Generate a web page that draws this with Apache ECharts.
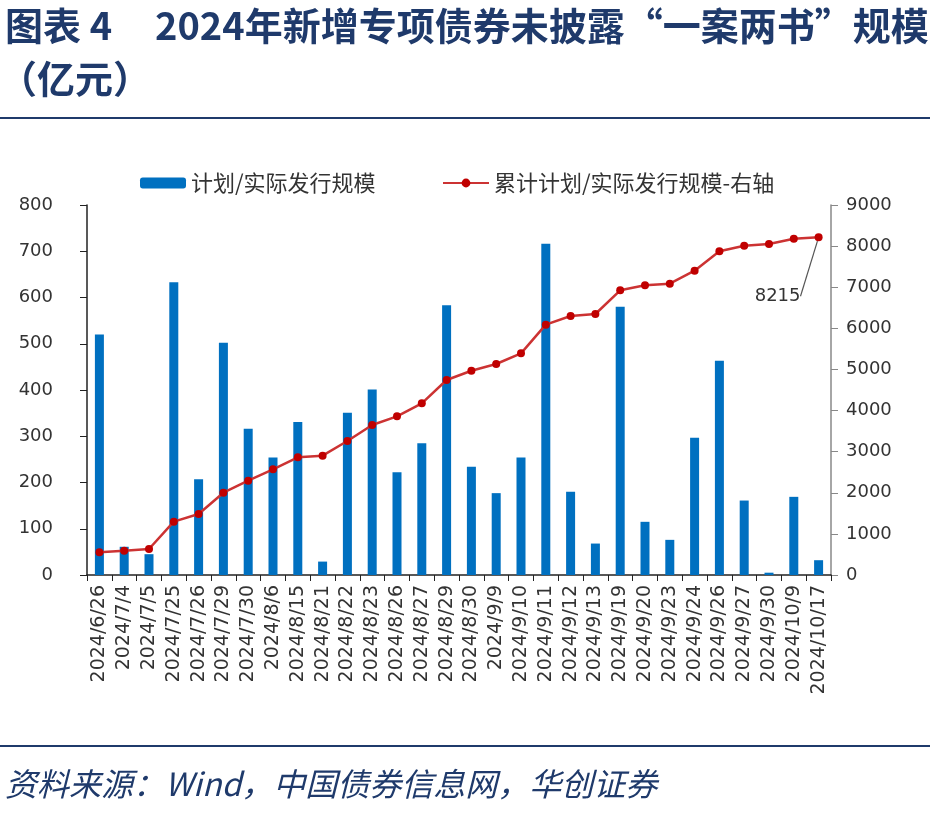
<!DOCTYPE html>
<html>
<head>
    <meta charset="utf-8">
    <title>2024年新增专项债券未披露“一案两书”规模</title>
    <script src="https://cdn.jsdelivr.net/npm/echarts@6.0.0/dist/echarts.min.js"></script>
    <style>
        html, body { margin: 0; padding: 0; background: #fff; }
        #chart { width: 930px; height: 828px; }
    </style>
</head>
<body>
    <div id="chart"></div>

    <script>
        // 日期（横轴）
        const dates = [
            '2024/6/26', '2024/7/4', '2024/7/5', '2024/7/25', '2024/7/26', '2024/7/29',
            '2024/7/30', '2024/8/6', '2024/8/15', '2024/8/21', '2024/8/22', '2024/8/23',
            '2024/8/26', '2024/8/27', '2024/8/29', '2024/8/30', '2024/9/9', '2024/9/10',
            '2024/9/11', '2024/9/12', '2024/9/13', '2024/9/19', '2024/9/20', '2024/9/23',
            '2024/9/24', '2024/9/26', '2024/9/27', '2024/9/30', '2024/10/9', '2024/10/17'
        ];
        // 计划/实际发行规模（亿元，左轴）
        const issueAmount = [
            520, 61, 45, 633, 207, 502, 316, 254, 331, 29, 351, 401, 222, 285, 583,
            234, 177, 254, 716, 180, 68, 580, 115, 76, 297, 463, 161, 5, 169, 32
        ];
        // 累计计划/实际发行规模（亿元，右轴）
        const cumulative = [
            552, 591, 632, 1297, 1484, 2002, 2294, 2571, 2863, 2903, 3259, 3649, 3860, 4176, 4743,
            4969, 5132, 5392, 6089, 6300, 6349, 6925, 7047, 7086, 7402, 7873, 8010, 8051, 8180, 8215
        ];
        const barName = '计划/实际发行规模';
        const lineName = '累计计划/实际发行规模-右轴';

        const navy = '#1F3A6B';
        const textColor = '#333';
        const numFont = 'DejaVu Sans';
        const cjkFont = '"Noto Sans CJK SC"';

        const chart = echarts.init(document.getElementById('chart'));
        const lastIdx = cumulative.length - 1;
        const labelShift = { dx: -41, dy: 77 };

        const option = {
            backgroundColor: '#fff',
            animation: false,
            title: [
                {
                    text: '图表 4',
                    left: 0, top: 2,
                    textStyle: { fontFamily: cjkFont, fontSize: 38, fontWeight: 'bold', color: navy }
                },
                {
                    text: '2024年新增专项债券未披露“一案两书”规模',
                    left: 150, top: 2,
                    textStyle: { fontFamily: cjkFont, fontSize: 38, fontWeight: 'bold', color: navy }
                },
                {
                    text: '（亿元）',
                    left: -6, top: 55,
                    textStyle: { fontFamily: cjkFont, fontSize: 38, fontWeight: 'bold', color: navy }
                },
                {
                    text: '资料来源：Wind，中国债券信息网，华创证券',
                    left: 0, top: 763,
                    textStyle: { fontFamily: cjkFont, fontSize: 32, fontStyle: 'italic', fontWeight: 'normal', color: navy }
                }
            ],
            graphic: [
                { type: 'rect', shape: { x: 0, y: 117, width: 930, height: 2 }, style: { fill: navy } },
                { type: 'rect', shape: { x: 0, y: 745, width: 930, height: 2 }, style: { fill: navy } }
            ],
            legend: [
                {
                    data: [barName],
                    left: 135, top: 167,
                    itemWidth: 46, itemHeight: 11,
                    textStyle: { fontFamily: cjkFont, fontSize: 22, color: textColor }
                },
                {
                    data: [lineName],
                    left: 437, top: 167,
                    itemWidth: 46, itemHeight: 11,
                    textStyle: { fontFamily: cjkFont, fontSize: 22, color: textColor }
                }
            ],
            grid: { left: 87, right: 99, top: 205, bottom: 253, containLabel: false },
            xAxis: {
                type: 'category',
                data: dates,
                boundaryGap: true,
                axisLine: { lineStyle: { color: '#222', width: 1.5 } },
                axisTick: { show: true, interval: 0, length: 6, lineStyle: { color: '#222' } },
                axisLabel: {
                    interval: 0, rotate: 90, margin: 10,
                    fontFamily: numFont, fontSize: 19, color: textColor
                }
            },
            yAxis: [
                {
                    type: 'value', min: 0, max: 800, interval: 100,
                    splitLine: { show: false },
                    axisLine: { show: true, lineStyle: { color: '#222', width: 1.5 } },
                    axisTick: { show: true, length: 7, lineStyle: { color: '#222' } },
                    axisLabel: { margin: 34, fontFamily: numFont, fontSize: 18, color: textColor }
                },
                {
                    type: 'value', min: 0, max: 9000, interval: 1000,
                    splitLine: { show: false },
                    axisLine: { show: true, lineStyle: { color: '#888', width: 1.5 } },
                    axisTick: { show: true, length: 7, lineStyle: { color: '#888' } },
                    axisLabel: {
                        margin: 15, fontFamily: numFont, fontSize: 18, color: textColor,
                        formatter: (v) => String(v)
                    }
                }
            ],
            series: [
                {
                    name: barName,
                    type: 'bar',
                    yAxisIndex: 0,
                    barWidth: 9,
                    itemStyle: { color: '#0070C0' },
                    data: issueAmount
                },
                {
                    name: lineName,
                    type: 'line',
                    yAxisIndex: 1,
                    symbol: 'circle',
                    symbolSize: 8,
                    lineStyle: { color: '#CC3333', width: 2.5 },
                    itemStyle: { color: '#C00000' },
                    data: cumulative.map((v, i) => i === lastIdx ? {
                        value: v,
                        label: {
                            show: true, position: 'top',
                            fontFamily: numFont, fontSize: 18, color: textColor
                        },
                        labelLine: { show: true, lineStyle: { color: '#555', width: 1.2 } }
                    } : v),
                    labelLayout: (params) => {
                        if (params.dataIndex !== lastIdx) return {};
                        const r = params.labelRect;
                        const anchor = params.rect;
                        const ax = anchor.x + anchor.width / 2;
                        const ay = anchor.y + anchor.height / 2;
                        // 引导线从数据点指向标签上方中部
                        const ex = r.x + labelShift.dx + r.width / 2 + 2;
                        const ey = r.y + labelShift.dy - 10;
                        return {
                            dx: labelShift.dx,
                            dy: labelShift.dy,
                            labelLinePoints: [[ax, ay], [(ax + ex) / 2, (ay + ey) / 2], [ex, ey]]
                        };
                    }
                }
            ]
        };

        chart.setOption(option);
    </script>
</body>
</html>
